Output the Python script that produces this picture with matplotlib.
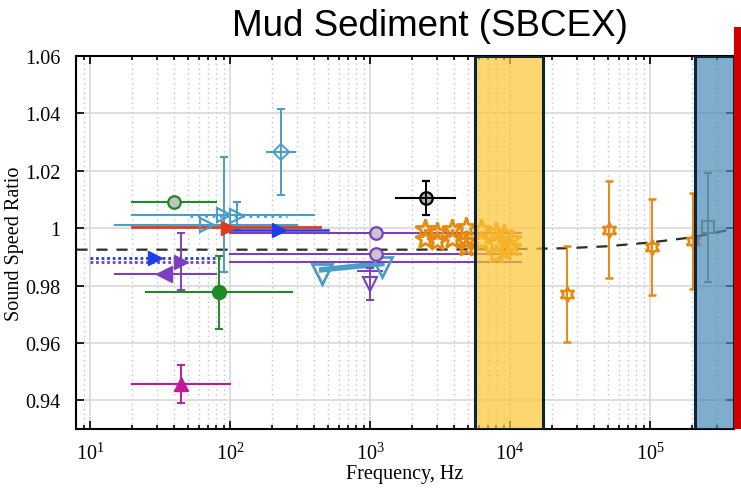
import matplotlib
matplotlib.use("Agg")
import matplotlib.pyplot as plt
from matplotlib.patches import Rectangle

plt.rcParams['font.family'] = ['Liberation Serif', 'DejaVu Serif']
plt.rcParams['mathtext.fontset'] = 'custom'
plt.rcParams['mathtext.rm'] = 'Liberation Serif'
plt.rcParams['mathtext.it'] = 'Liberation Serif:italic'

# model curve (dashed)
model_freq = [8, 2e3, 1e4, 2.5e4, 5e4, 1e5, 2e5, 3e5, 4e5]
model_ratio = [0.9925, 0.9925, 0.9927, 0.993, 0.9937, 0.995, 0.9968, 0.9985, 0.9998]

# measurement bands
mid_band = [5.6e3, 1.72e4]
high_band = [2.1e5, 4.0e5]

# cyan right-pointing triangles
cyan_f = [68, 90, 112]
cyan_r = [1.001, 1.0047, 1.0042]
cyan_lo = [15, 20, 52]
cyan_hi = [300, 400, 254]
cyan_err = [0.0, 0.02, 0.005]

# cyan diamond
diam_f, diam_r, diam_lo, diam_hi, diam_err = 231, 1.0264, 183, 291, 0.015

# cyan down triangles (joined)
cyan_tri_f = [452, 1213]
cyan_tri_r = [0.984, 0.9863]

# red / blue right triangles
red_f, red_r, red_lo, red_hi = 97, 1.0005, 20, 440
blue_f = [225, 29]
blue_r = [0.9993, 0.9897]
blue_lo = [100, 10]
blue_hi = [500, 85]

# purple lines with circles
purple_line_r = [0.9983, 0.991, 0.9883]
purple_lo, purple_hi = 100, 12000
purple_circ_f = [1100, 1100]
purple_circ_r = [0.9983, 0.991]

# purple triangles
purple_rt_f, purple_rt_r, purple_rt_err, purple_rt_lo, purple_rt_hi = 45, 0.9883, 0.01, 10, 81
purple_lt_f, purple_lt_r, purple_lt_lo, purple_lt_hi = 34, 0.984, 15, 80
purple_dn_f, purple_dn_r, purple_dn_err, purple_dn_lo, purple_dn_hi = 1000, 0.9805, 0.0057, 820, 1210

# green circles
green_f = [40, 84]
green_r = [1.009, 0.9777]
green_lo = [20, 25]
green_hi = [80, 277]
green_err = [0.0, 0.0127]

# magenta triangle
mag_f, mag_r, mag_err, mag_lo, mag_hi = 45, 0.9457, 0.0065, 20, 100

# black circle
blk_f, blk_r, blk_err, blk_lo, blk_hi = 2500, 1.0105, 0.0058, 1530, 4050

# orange star cluster
star_f = [2470, 2470, 3000, 3000, 3850, 3850, 4850, 4850, 4850, 6200, 6200,
          7900, 7900, 8000, 9000, 9000, 10200, 10200]
star_r = [0.9997, 0.9962, 0.9987, 0.9955, 0.9997, 0.9962, 1.0004, 0.9955, 0.9934,
          0.9997, 0.9955, 0.9987, 0.995, 0.991, 0.998, 0.992, 0.9962, 0.9935]

# orange hexagrams with error bars
hex_f = [2.56e4, 5.12e4, 1.04e5, 2.02e5]
hex_r = [0.977, 0.9995, 0.9935, 0.9956]
hex_err = [0.0167, 0.0168, 0.0167, 0.0167]

# gray square
sq_f, sq_r, sq_err = 2.58e5, 1.0003, 0.019

CYAN = '#4b9dc6'
RED = '#e03a1e'
BLUE = '#1f3ee6'
PURPLE = '#7d3fc0'
GREEN = '#1f8a24'
MAGENTA = '#c4189a'
ORANGE = '#e8890f'
NAVY = '#0d2438'

fig = plt.figure(figsize=(7.41, 4.89), dpi=100)
ax = fig.add_axes([76 / 741, 59 / 489, 658 / 741, 373 / 489])
ax.set_xscale('log')
ax.set_xlim(7.94, 3.98e5)
ax.set_ylim(0.93, 1.06)

ax.grid(which='major', color='#d9d9d9', linestyle='-', linewidth=1.2)
ax.grid(which='minor', axis='x', color='#c4c4c4', linestyle=(0, (1, 2.5)), linewidth=1.0)
ax.set_axisbelow(True)

ax.plot(model_freq, model_ratio, color='#2b2f1f', ls=(0, (5, 4)), lw=1.6, zorder=3)

eb = dict(capsize=3, elinewidth=1.4, capthick=1.4, ls='none', zorder=4)


def span(lo, hi, r, color, ls='-', lw=1.5):
    # frequency range of a measurement, drawn without caps
    ax.plot([lo, hi], [r, r], color=color, ls=ls, lw=lw, zorder=4)


# cyan
for i in range(3):
    if i == 2:
        span(cyan_lo[i], cyan_hi[i], cyan_r[i], CYAN, ls=':', lw=2)
    else:
        span(cyan_lo[i], cyan_hi[i], cyan_r[i], CYAN)
    ax.errorbar(cyan_f[i], cyan_r[i], yerr=cyan_err[i] if cyan_err[i] else None,
                marker='>', ms=10, mfc='none', mec=CYAN, mew=1.6, color=CYAN, **eb)
span(diam_lo, diam_hi, diam_r, CYAN)
ax.errorbar(diam_f, diam_r, yerr=diam_err,
            marker='D', ms=8, mfc='none', mec=CYAN, mew=1.4, color=CYAN, **eb)
ax.plot(cyan_tri_f, [cyan_tri_r[0] + 0.0015, cyan_tri_r[1] + 0.0013], color=CYAN,
        lw=4, zorder=4)
ax.plot(cyan_tri_f, cyan_tri_r, ls='none', marker='v', ms=14, mfc='none',
        mec=CYAN, mew=2, zorder=5)

# red / blue
span(red_lo, red_hi, red_r, RED, lw=2)
ax.plot(red_f, red_r - 0.0003, marker='>', ms=10, color=RED, ls='none', zorder=5)
span(blue_lo[0], blue_hi[0], blue_r[0], BLUE, lw=1.8)
span(blue_lo[1], blue_hi[1], blue_r[1], BLUE, ls=(0, (1, 1)), lw=2)
ax.plot(blue_f, blue_r, marker='>', ms=10, color=BLUE, ls='none', zorder=5)

# purple
for r in purple_line_r:
    span(purple_lo, purple_hi, r, PURPLE)
ax.plot(purple_circ_f, purple_circ_r, ls='none', marker='o', ms=9,
        mfc='#c9c6d2', mec=PURPLE, mew=1.6, zorder=5)
span(purple_rt_lo, purple_rt_hi, purple_rt_r, PURPLE, ls=(0, (1, 1)), lw=2)
ax.errorbar(purple_rt_f, purple_rt_r, yerr=purple_rt_err, marker='>', ms=10,
            color=PURPLE, **eb)
span(purple_lt_lo, purple_lt_hi, purple_lt_r, PURPLE)
ax.plot(purple_lt_f, purple_lt_r, marker='<', ms=11, color=PURPLE, ls='none', zorder=5)
span(purple_dn_lo, purple_dn_hi, purple_dn_r + 0.0045, PURPLE)
ax.errorbar(purple_dn_f, purple_dn_r, yerr=purple_dn_err,
            marker='v', ms=10, mfc='none', mec=PURPLE, mew=1.5, color=PURPLE, **eb)

# green
span(green_lo[0], green_hi[0], green_r[0], GREEN)
ax.plot(green_f[0], green_r[0], marker='o', ms=9, mfc='#bfc4bf', mec=GREEN,
        mew=1.6, ls='none', zorder=5)
span(green_lo[1], green_hi[1], green_r[1], GREEN)
ax.errorbar(green_f[1], green_r[1], yerr=green_err[1],
            marker='o', ms=10, color=GREEN, **eb)

# magenta
span(mag_lo, mag_hi, mag_r, MAGENTA)
ax.errorbar(mag_f, mag_r, yerr=mag_err, marker='^', ms=10, color=MAGENTA, **eb)

# black
span(blk_lo, blk_hi, blk_r, 'k')
ax.errorbar(blk_f, blk_r, yerr=blk_err,
            marker='o', ms=9, mfc='#b0b0b0', mec='k', mew=1.6, color='k', **eb)
ax.plot(blk_f, blk_r, marker='+', ms=9, color='k', mew=1.4, zorder=6)

# orange stars
ax.plot(star_f, star_r, ls='none', marker='*', ms=15, mfc='none', mec=ORANGE,
        mew=2, zorder=4)
ax.errorbar(hex_f, hex_r, yerr=hex_err, marker=(6, 1, 0), ms=11, mfc='none',
            mec=ORANGE, mew=1.8, color=ORANGE, **eb)

# gray square
ax.errorbar(sq_f, sq_r, yerr=sq_err, marker='s', ms=9, mfc='none',
            mec='#8c8862', mew=1.5, color='#8c8862', **eb)

# shaded bands
ax.axvspan(mid_band[0], mid_band[1], facecolor='#fcc634', alpha=0.7,
           edgecolor='none', zorder=7)
ax.axvspan(high_band[0], high_band[1], facecolor='#4a8ab5', alpha=0.7,
           edgecolor='none', zorder=7)
for lo, hi in [mid_band, high_band]:
    ax.add_patch(Rectangle((lo, 0.93), hi - lo, 0.13, fill=False,
                           edgecolor=NAVY, lw=2.2, zorder=8))

ax.set_xticks([1e1, 1e2, 1e3, 1e4, 1e5])
ax.set_yticks([0.94, 0.96, 0.98, 1.0, 1.02, 1.04, 1.06])
ax.set_yticklabels(['0.94', '0.96', '0.98', '1', '1.02', '1.04', '1.06'])
ax.tick_params(which='both', direction='in', top=True, right=True,
               labelsize=14.5, width=1.2)
ax.tick_params(which='major', length=6)
ax.tick_params(which='minor', length=3)
ax.tick_params(axis='x', pad=10)
ax.tick_params(axis='y', pad=11)
for s in ax.spines.values():
    s.set_linewidth(1.5)

ax.set_xlabel('Frequency, Hz', fontsize=14.5, labelpad=0)
ax.set_ylabel('Sound Speed Ratio', fontsize=14.5, labelpad=1)

fig.text(0.58, 0.945, 'Mud Sediment (SBCEX)', family='Liberation Sans',
         fontsize=26.5, ha='center', va='center')

# red marker bar at the right edge
fig.add_artist(Rectangle((734 / 741, 59 / 489), 8 / 741, 402 / 489,
                         transform=fig.transFigure, facecolor='#d10000',
                         edgecolor='none'))

fig.savefig('out.png', dpi=100)
